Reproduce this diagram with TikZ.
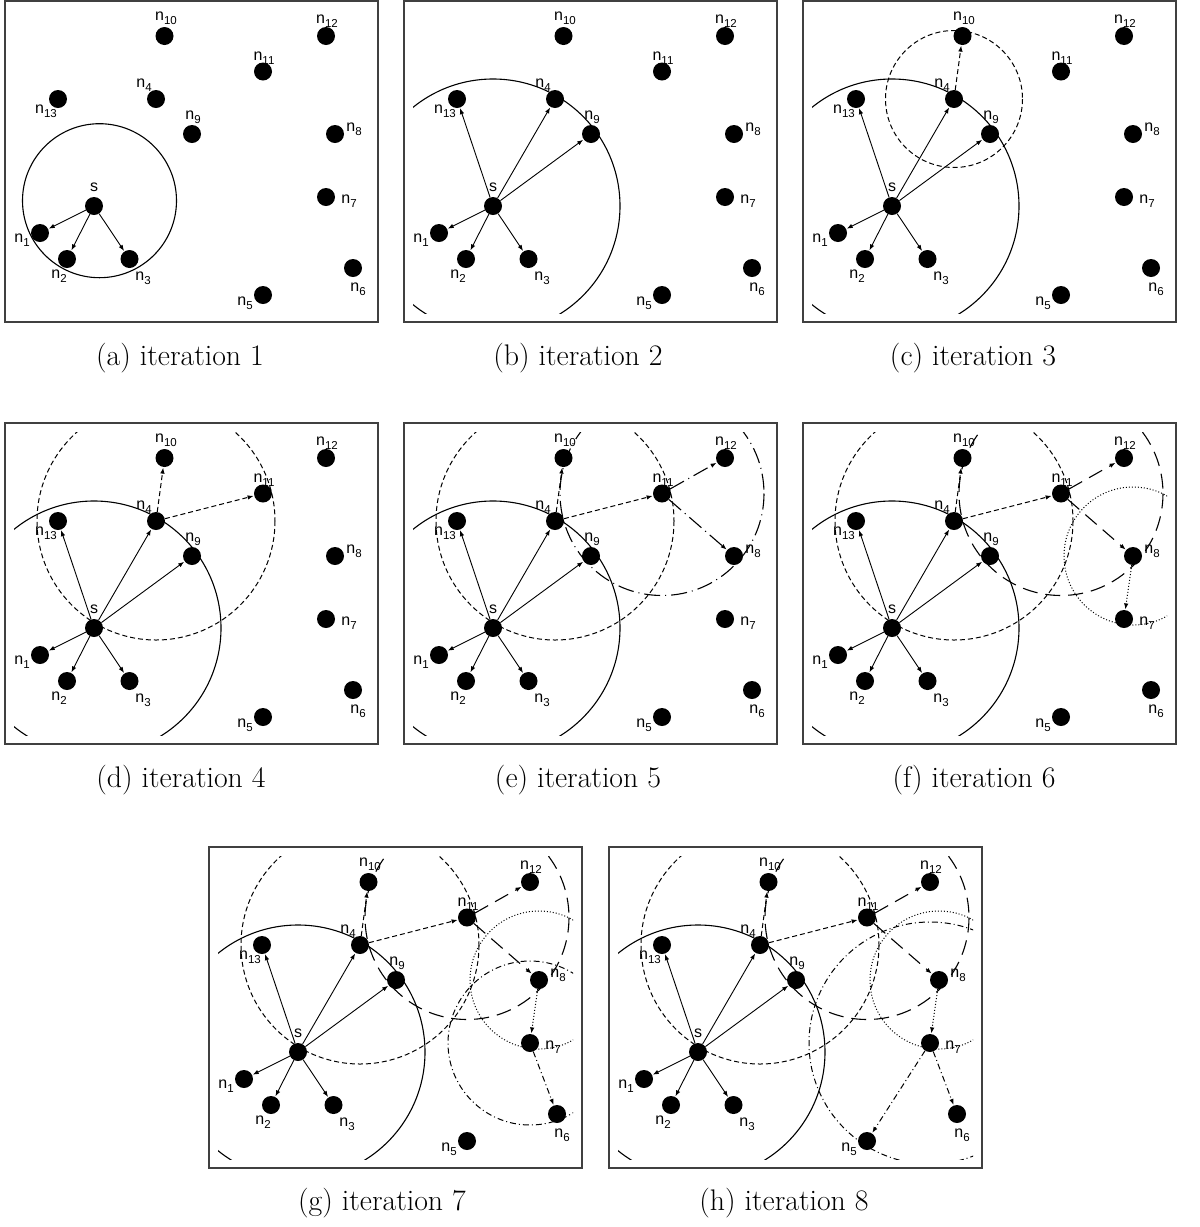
\documentclass[tikz,border=0pt]{standalone}
\usepackage{fontspec}
\newfontfamily\labfont{Liberation Sans}
\usetikzlibrary{arrows.meta}
\tikzset{
  netdot/.style={circle,fill=black,minimum size=18pt,inner sep=0pt},
  lbl/.style={font=\labfont\fontsize{16}{17}\selectfont,inner sep=0pt},
  captxt/.style={font=\fontsize{29.8}{32}\selectfont,inner sep=0pt},
  boxline/.style={draw=black!75,line width=1.1pt},
  solidc/.style={line width=1.1pt},
  dashc/.style={line width=1pt,dash pattern=on 5pt off 3pt},
  lddc/.style={line width=1.1pt,dash pattern=on 16pt off 5pt on 1pt off 5pt},
  ldc/.style={line width=1.1pt,dash pattern=on 15pt off 8pt},
  dotc/.style={line width=1pt,dash pattern=on 1pt off 2pt},
  ddc/.style={line width=1pt,dash pattern=on 6pt off 3pt on 1pt off 3pt},
  arr/.style={-{Latex[length=6pt,width=4.5pt]},line width=0.9pt,shorten >=0.5pt},
}
\newcommand\nn[1]{n\raisebox{-0.28em}{\fontsize{11.5}{11.5}\selectfont #1}}
\newcommand\panelbase{%
  \draw[boxline] (0,0) rectangle (373,321);
  \node[netdot] (s) at (89,205) {};
  \node[netdot] (n1) at (35,232) {};
  \node[netdot] (n2) at (62,258) {};
  \node[netdot] (n3) at (124.5,258) {};
  \node[netdot] (n4) at (151,98) {};
  \node[netdot] (n5) at (258,294) {};
  \node[netdot] (n6) at (348,267) {};
  \node[netdot] (n7) at (321,196) {};
  \node[netdot] (n8) at (330,133) {};
  \node[netdot] (n9) at (187,133) {};
  \node[netdot] (n10) at (159.5,35) {};
  \node[netdot] (n11) at (258,70.5) {};
  \node[netdot] (n12) at (321,35) {};
  \node[netdot] (n13) at (53,98) {};
  \node[lbl] (ls) at (89,186) {s};
  \node[lbl] (l1) at (17,239) {\nn{1}};
  \node[lbl] (l2) at (54,275) {\nn{2}};
  \node[lbl] (l3) at (138,277) {\nn{3}};
  \node[lbl] (l4) at (139,84) {\nn{4}};
  \node[lbl] (l5) at (240,302) {\nn{5}};
  \node[lbl] (l6) at (353,288) {\nn{6}};
  \node[lbl] (l7) at (344,200) {\nn{7}};
  \node[lbl] (l8) at (349,128) {\nn{8}};
  \node[lbl] (l9) at (188,116) {\nn{9}};
  \node[lbl] (l10) at (161,17) {\nn{10}};
  \node[lbl] (l11) at (259,57) {\nn{11}};
  \node[lbl] (l12) at (322,20) {\nn{12}};
  \node[lbl] (l13) at (41,110) {\nn{13}};
}
\newcommand\drawpanel[3]{%
\begin{scope}[shift={(#1,#2)},name prefix=p#3-]
  \panelbase
  \begin{scope}
    \clip (9,9) rectangle (364,312);
    \ifnum#3=1 \draw[solidc] (94.5,199.7) circle[radius=77];\else \draw[solidc] (s) circle[radius=127];\fi
    \ifnum#3=3 \draw[dashc] (n4) circle[radius=68.5];\fi
    \ifnum#3>3 \draw[dashc] (n4) circle[radius=119];\fi
    \ifnum#3=5 \draw[lddc] (n11) circle[radius=102];\fi
    \ifnum#3>5 \draw[ldc] (n11) circle[radius=102];\fi
    \ifnum#3>5 \draw[dotc] (n8) circle[radius=69];\fi
    \ifnum#3=7 \draw[ddc] (n7) circle[radius=82];\fi
    \ifnum#3=8 \draw[ddc] (n7) circle[radius=121];\fi
  \end{scope}
  \draw[arr] (s) -- (n1);
  \draw[arr] (s) -- (n2);
  \draw[arr] (s) -- (n3);
  \ifnum#3>1
    \draw[arr] (s) -- (n13);
    \draw[arr] (s) -- (n4);
    \draw[arr] (s) -- (n9);
  \fi
  \ifnum#3>2 \draw[arr,dashc] (n4) -- (n10);\fi
  \ifnum#3>3 \draw[arr,dashc] (n4) -- (n11);\fi
  \ifnum#3=5
    \draw[arr,lddc] (n11) -- (n12);
    \draw[arr,lddc] (n11) -- (n8);
  \fi
  \ifnum#3>5
    \draw[arr,ldc] (n11) -- (n12);
    \draw[arr,ldc] (n11) -- (n8);
  \fi
  \ifnum#3>5 \draw[arr,dotc] (n8) -- (n7);\fi
  \ifnum#3>6 \draw[arr,ddc] (n7) -- (n6);\fi
  \ifnum#3>7 \draw[arr,ddc] (n7) -- (n5);\fi
\end{scope}}
\begin{document}
\begin{tikzpicture}[x=1pt,y=-1pt]
  \useasboundingbox (0,0) rectangle (1200,1227);
  \drawpanel{5}{1}{1}
  \drawpanel{404}{1}{2}
  \drawpanel{803}{1}{3}
  \drawpanel{5}{423}{4}
  \drawpanel{404}{423}{5}
  \drawpanel{803}{423}{6}
  \drawpanel{209}{847}{7}
  \drawpanel{609}{847}{8}
  \node[captxt] (capa) at (180,358) {(a) iteration 1};
  \node[captxt] (capb) at (578,358) {(b) iteration 2};
  \node[captxt] (capc) at (973,358) {(c) iteration 3};
  \node[captxt] (capd) at (181,780) {(d) iteration 4};
  \node[captxt] (cape) at (578,780) {(e) iteration 5};
  \node[captxt] (capf) at (974,780) {(f) iteration 6};
  \node[captxt] (capg) at (382,1203) {(g) iteration 7};
  \node[captxt] (caph) at (784,1203) {(h) iteration 8};
\end{tikzpicture}
\end{document}
